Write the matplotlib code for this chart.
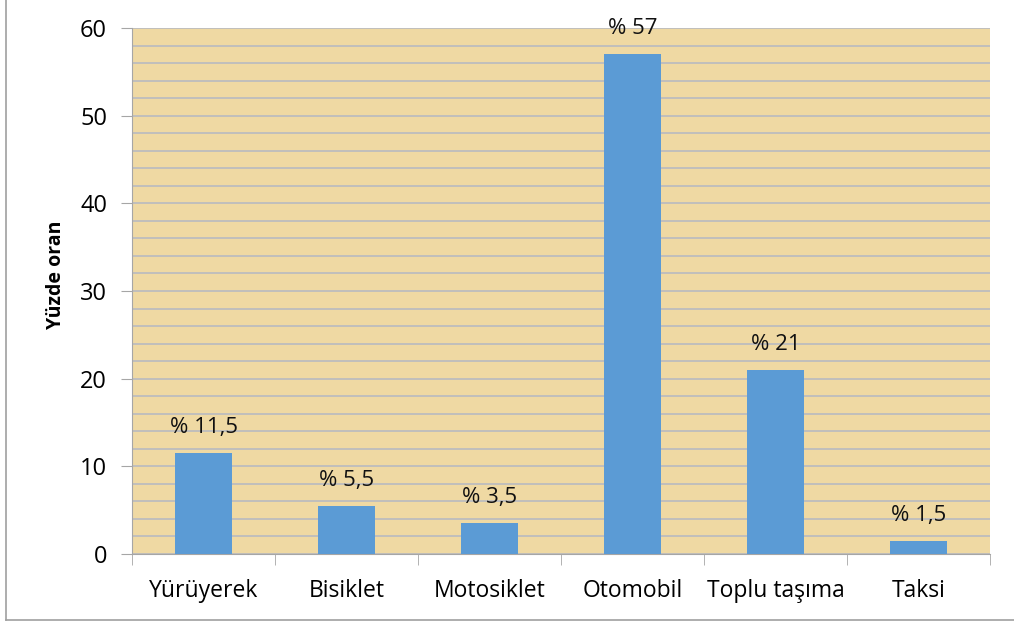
import matplotlib.pyplot as plt
from matplotlib.lines import Line2D
import numpy as np

categories = ['Yürüyerek', 'Bisiklet', 'Motosiklet', 'Otomobil', 'Toplu taşıma', 'Taksi']
values = [11.5, 5.5, 3.5, 57, 21, 1.5]
labels = ['% 11,5', '% 5,5', '% 3,5', '% 57', '% 21', '% 1,5']

plt.rcParams['font.family'] = ['Open Sans', 'DejaVu Sans']

fig = plt.figure(figsize=(10.14, 6.26), dpi=100)
ax = fig.add_axes([0.1302, 0.1150, 0.8462, 0.8403])
ax.set_facecolor('#EFD9A3')

x = np.arange(len(categories))
ax.bar(x, values, width=0.4, color='#5B9BD5', zorder=3)

for xi, v, lab in zip(x, values, labels):
    ax.annotate(lab, (xi, v), xytext=(0, 11), textcoords='offset points',
                ha='center', va='bottom', fontsize=16, color='#111111')

ax.set_xlim(-0.5, len(categories) - 0.5)
ax.set_ylim(0, 60)
ax.set_yticks(np.arange(0, 61, 10))
ax.set_yticks(np.arange(0, 61, 2), minor=True)
ax.grid(axis='y', which='both', color='#B8BAC0', linewidth=1.2, zorder=1)
ax.set_axisbelow(True)

ax.set_xticks(x)
ax.set_xticklabels(categories, fontsize=16.5)
ax.set_xticks(np.arange(-0.5, len(categories)), minor=True)
ax.tick_params(axis='x', which='major', length=0, pad=18)
ax.tick_params(axis='x', which='minor', length=8, color='#A6A6A6')
ax.tick_params(axis='y', which='major', length=8, color='#A6A6A6', labelsize=17, pad=10)
ax.tick_params(axis='y', which='minor', length=0)

for s in ['top', 'right']:
    ax.spines[s].set_visible(False)
for s in ['left', 'bottom']:
    ax.spines[s].set_color('#A6A6A6')

ax.set_ylabel('Yüzde oran', fontsize=14, fontweight='bold')
ax.yaxis.set_label_coords(-0.077, 0.53)

fig.add_artist(Line2D([6 / 1014, 6 / 1014], [6 / 626, 1.0], color='#A0A0A0', linewidth=1.2))
fig.add_artist(Line2D([6 / 1014, 1.0], [6 / 626, 6 / 626], color='#A0A0A0', linewidth=1.2))

fig.savefig('out.png', dpi=100)
